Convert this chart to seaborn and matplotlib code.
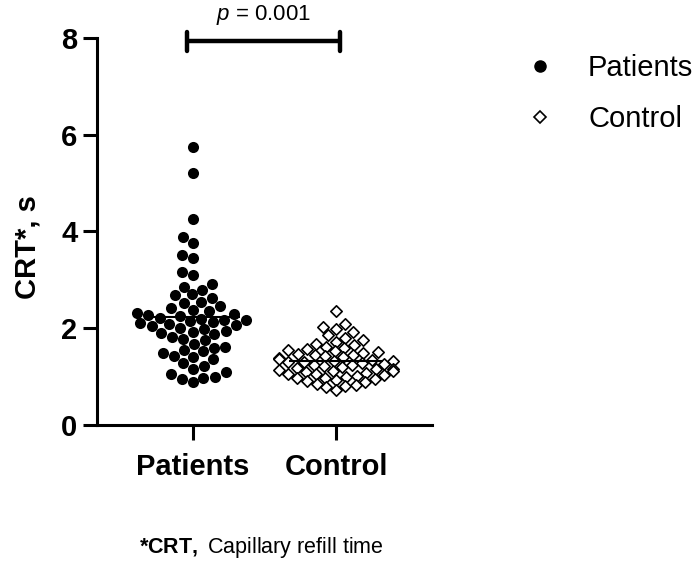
import numpy as np
import pandas as pd
import seaborn as sns
import matplotlib
matplotlib.use("Agg")
import matplotlib.pyplot as plt
from matplotlib.lines import Line2D

# ---- data ----
groups = ["Patients", "Control"]
patients = [5.75, 5.2, 4.25,
            3.88, 3.76, 3.52, 3.45, 3.16, 3.1,
            2.92, 2.86, 2.8, 2.7, 2.68, 2.62, 2.55, 2.52,
            2.45, 2.42, 2.38, 2.35, 2.32, 2.3, 2.28, 2.26,
            2.22, 2.2, 2.18, 2.16, 2.14, 2.12, 2.1, 2.08, 2.06, 2.04,
            2.0, 1.98, 1.95, 1.92, 1.9, 1.88,
            1.82, 1.78, 1.75,
            1.68, 1.62, 1.6, 1.55, 1.52, 1.48, 1.42, 1.4, 1.36,
            1.28, 1.22, 1.15, 1.1, 1.05, 1.0, 0.98, 0.95, 0.88]
control = [2.35, 2.08, 2.02, 1.98, 1.92, 1.85, 1.8, 1.75, 1.72, 1.68,
           1.65, 1.62, 1.6, 1.58, 1.55, 1.52, 1.5, 1.48, 1.46, 1.45,
           1.44, 1.42, 1.4, 1.38, 1.36, 1.35, 1.33, 1.32, 1.31, 1.3,
           1.28, 1.26, 1.25, 1.23, 1.22, 1.2, 1.18, 1.16, 1.15, 1.13,
           1.12, 1.12, 1.1, 1.08, 1.06, 1.05, 1.03, 1.02, 1.0, 0.98,
           0.97, 0.95, 0.93, 0.9, 0.88, 0.85, 0.82, 0.8, 0.78, 0.72]
y_ticks = [0, 2, 4, 6, 8]
p_label = "0.001"
y_label = "CRT*, s"
footnote_bold = "*CRT,"
footnote_rest = "Capillary refill time"

df = pd.DataFrame({
    "group": ["Patients"] * len(patients) + ["Control"] * len(control),
    "value": patients + control,
})

sns.set_theme(style="ticks")
plt.rcParams["font.family"] = ["Liberation Sans", "DejaVu Sans"]
plt.rcParams["mathtext.fontset"] = "custom"
plt.rcParams["mathtext.rm"] = "Liberation Sans"
plt.rcParams["mathtext.it"] = "Liberation Sans:italic"
plt.rcParams["mathtext.bf"] = "Liberation Sans:bold"
for k in ["text.color", "axes.labelcolor", "xtick.color", "ytick.color", "axes.edgecolor"]:
    plt.rcParams[k] = "black"

fig = plt.figure(figsize=(6.96, 5.84), dpi=100)
ax = fig.add_axes([0.1394, 0.2723, 0.4813, 0.6627])

sns.swarmplot(data=df[df.group == "Patients"], x="group", y="value", order=groups,
              color="black", size=8, ax=ax)
sns.swarmplot(data=df[df.group == "Control"], x="group", y="value", order=groups,
              color="white", edgecolor="black", linewidth=1.2, marker="D", size=5.8, ax=ax)

# mean lines
for i, vals in enumerate([patients, control]):
    m = np.mean(vals)
    ax.hlines(m, i - 0.33, i + 0.33, color="black", lw=1.5, zorder=5)

ax.set_xlim(-0.67, 1.67)
ax.set_ylim(0, 8)
ax.set_yticks(y_ticks)
ax.set_xlabel("")
ax.set_ylabel(y_label, fontsize=21, fontweight="bold")
ax.yaxis.set_label_coords(-0.165, 0.46)
sns.despine(ax=ax)
for s in ["left", "bottom"]:
    ax.spines[s].set_linewidth(2.2)
ax.tick_params(axis="y", length=10, width=2.2, labelsize=21, pad=4)
ax.tick_params(axis="x", length=11, width=2.2, labelsize=21, pad=9)
for lab in ax.get_xticklabels() + ax.get_yticklabels():
    lab.set_fontweight("bold")

# significance bar
ybar = 7.93
ax.plot([-0.04, 1.03], [ybar, ybar], color="black", lw=3.2, clip_on=False,
        solid_capstyle="butt")
for xx in [-0.04, 1.03]:
    ax.plot([xx, xx], [ybar - 0.2, ybar + 0.2], color="black", lw=3.2, clip_on=False,
            solid_capstyle="round")
ax.text(0.49, ybar + 0.3, r"$\it{p}$ = " + p_label, ha="center", va="bottom", fontsize=16)

# legend
handles = [
    Line2D([], [], marker="o", ls="", color="black", markersize=8),
    Line2D([], [], marker="D", ls="", markerfacecolor="white", markeredgecolor="black",
           markeredgewidth=1.2, markersize=5.8),
]
fig.legend(handles, groups, loc="upper left", bbox_to_anchor=(0.738, 0.927),
           frameon=False, fontsize=21, labelspacing=0.78, handletextpad=1.15,
           handlelength=1.0, borderaxespad=0)

# footnote
fig.text(0.376, 0.062, r"$\bf{" + footnote_bold + r"}$" + " " + footnote_rest,
         ha="center", va="center", fontsize=15.5)

fig.savefig("out.png", dpi=100)
